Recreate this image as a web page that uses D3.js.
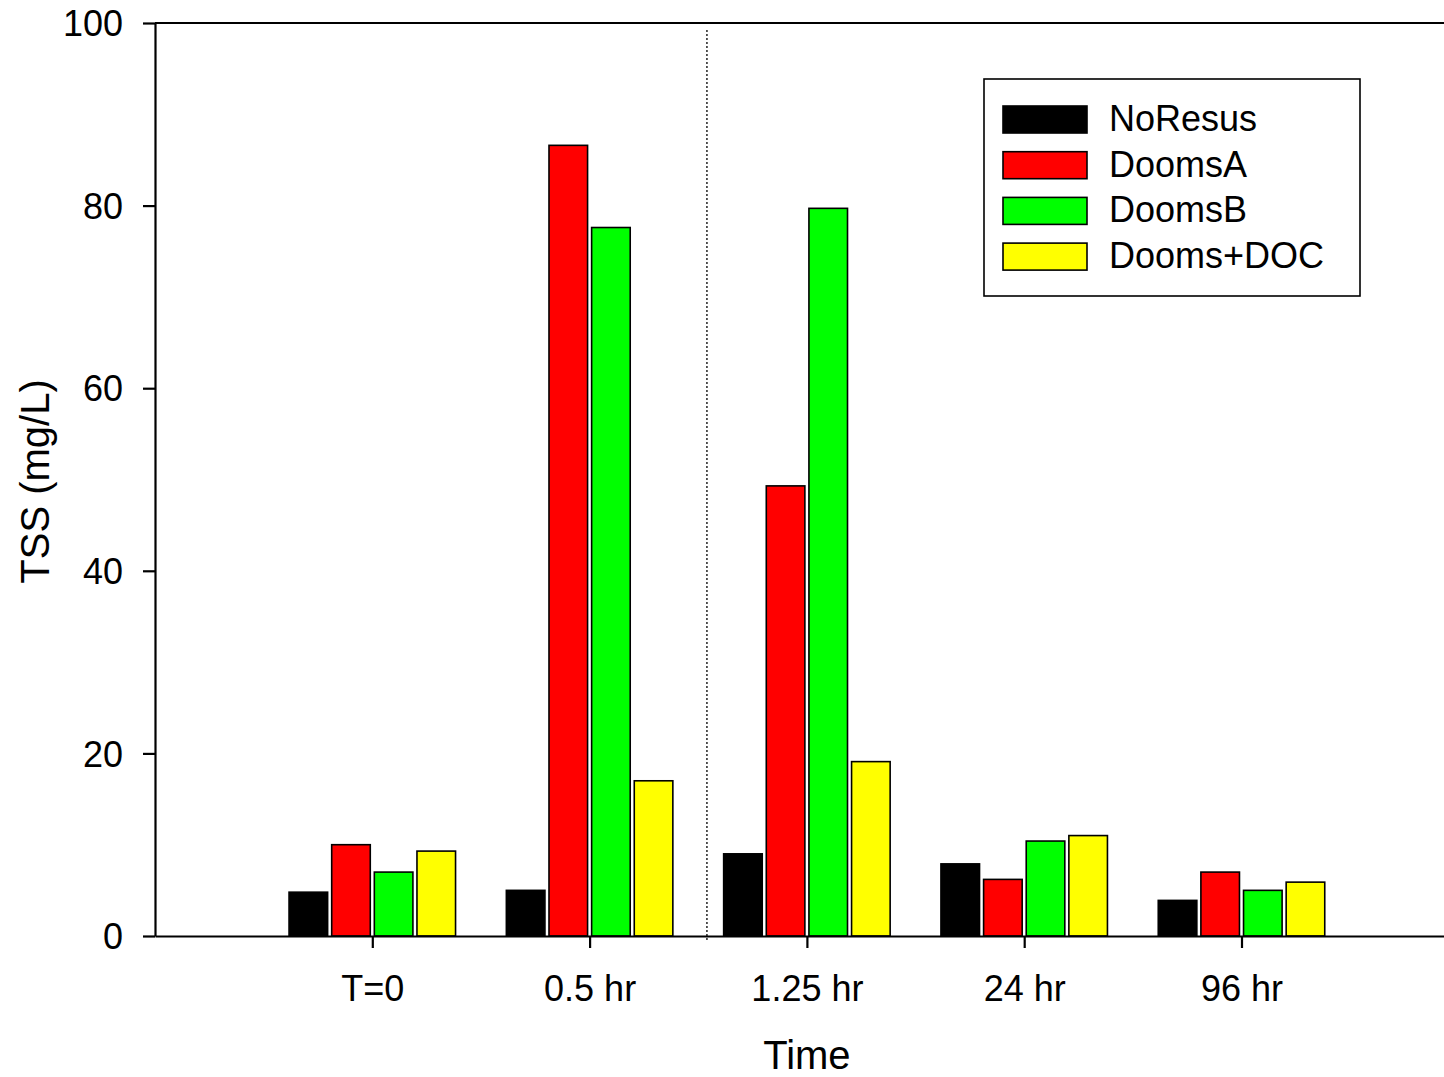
<!DOCTYPE html>
<html>
<head>
<meta charset="utf-8">
<script src="https://cdn.jsdelivr.net/npm/d3@7"></script>
<style>
  html, body { margin: 0; padding: 0; background: #fff; }
  svg { display: block; font-family: "Liberation Sans", Arial, sans-serif; }
</style>
</head>
<body>
<svg id="chart" width="1444" height="1077"></svg>
<script>
// ---- data ----
const categories = ["T=0", "0.5 hr", "1.25 hr", "24 hr", "96 hr"];
const seriesNames = ["NoResus", "DoomsA", "DoomsB", "Dooms+DOC"];
const seriesColors = ["#000000", "#ff0000", "#00ff00", "#ffff00"];
const noResus  = [4.8, 5.0, 9.0, 7.9, 3.9];
const doomsA   = [10.0, 86.6, 49.3, 6.2, 7.0];
const doomsB   = [7.0, 77.6, 79.7, 10.4, 5.0];
const doomsDOC = [9.3, 17.0, 19.1, 11.0, 5.9];
const seriesValues = [noResus, doomsA, doomsB, doomsDOC];
const yTicks = [0, 20, 40, 60, 80, 100];
const dividerPos = 2.54; // dotted separator, in category-position units
const xTitle = "Time";
const yTitle = "TSS (mg/L)";

// ---- layout ----
(function () {
const svg = d3.select("#chart");
const plotLeft = 155, plotTop = 23, plotBottom = 936;
const step = 217.3;

const x = d3.scaleLinear().domain([0, 6]).range([plotLeft, plotLeft + 6 * step]);
const y = d3.scaleLinear().domain([0, 100]).range([plotBottom, plotTop]);
const inner = d3.scaleBand().domain(seriesNames).range([-83.25, 83.25]).paddingInner(0.095);

// top border line
svg.append("line")
  .attr("x1", x(0)).attr("x2", x(6))
  .attr("y1", y(100)).attr("y2", y(100))
  .attr("stroke", "#000").attr("stroke-width", 2.2);

// bars
seriesNames.forEach((s, si) => {
  svg.append("g").selectAll("rect")
    .data(seriesValues[si])
    .join("rect")
    .attr("x", (d, i) => x(i + 1) + inner(s))
    .attr("width", inner.bandwidth())
    .attr("y", d => y(d))
    .attr("height", d => y(0) - y(d))
    .attr("fill", seriesColors[si])
    .attr("stroke", "#000")
    .attr("stroke-width", 1.6);
});

// dotted separator
svg.append("line")
  .attr("x1", x(dividerPos)).attr("x2", x(dividerPos))
  .attr("y1", y(100) + 7).attr("y2", y(0) + 4)
  .attr("stroke", "#000").attr("stroke-width", 1.3)
  .attr("stroke-dasharray", "2,2");

// y axis
const yAxis = svg.append("g")
  .attr("transform", `translate(${plotLeft},0)`)
  .call(d3.axisLeft(y).tickValues(yTicks).tickSize(12).tickSizeOuter(0).tickPadding(20));
yAxis.select(".domain").attr("stroke-width", 2.2);
yAxis.selectAll(".tick line").attr("stroke-width", 2.2);
yAxis.selectAll("text")
  .attr("font-size", 36).attr("font-family", "Liberation Sans, Arial, sans-serif")
  .attr("fill", "#000").attr("dy", "0.35em");

// x axis
const xAxis = svg.append("g")
  .attr("transform", `translate(0,${plotBottom})`)
  .call(d3.axisBottom(x).tickValues(categories.map((c, i) => i + 1))
    .tickFormat((d) => categories[d - 1]).tickSize(12).tickSizeOuter(0).tickPadding(27));
xAxis.select(".domain").attr("stroke-width", 2.2);
xAxis.selectAll(".tick line").attr("stroke-width", 2.2);
xAxis.selectAll("text")
  .attr("font-size", 36).attr("font-family", "Liberation Sans, Arial, sans-serif")
  .attr("fill", "#000");

// axis titles
svg.append("text")
  .attr("x", x(3)).attr("y", 1069)
  .attr("text-anchor", "middle")
  .attr("font-size", 40)
  .text(xTitle);
svg.append("text")
  .attr("transform", `translate(49,${(y(0) + y(100)) / 2 + 2}) rotate(-90)`)
  .attr("text-anchor", "middle")
  .attr("font-size", 40)
  .text(yTitle);

// legend
const lg = svg.append("g").attr("transform", "translate(984,79)");
lg.append("rect")
  .attr("width", 376).attr("height", 217)
  .attr("fill", "#fff").attr("stroke", "#000").attr("stroke-width", 1.6);
seriesNames.forEach((s, i) => {
  const row = lg.append("g").attr("transform", `translate(0,${27 + i * 45.7})`);
  row.append("rect")
    .attr("x", 19).attr("y", 0).attr("width", 84).attr("height", 27)
    .attr("fill", seriesColors[i]).attr("stroke", "#000").attr("stroke-width", 1.6);
  row.append("text")
    .attr("x", 125).attr("y", 25)
    .attr("font-size", 36)
    .text(s);
});
})();
</script>
</body>
</html>
